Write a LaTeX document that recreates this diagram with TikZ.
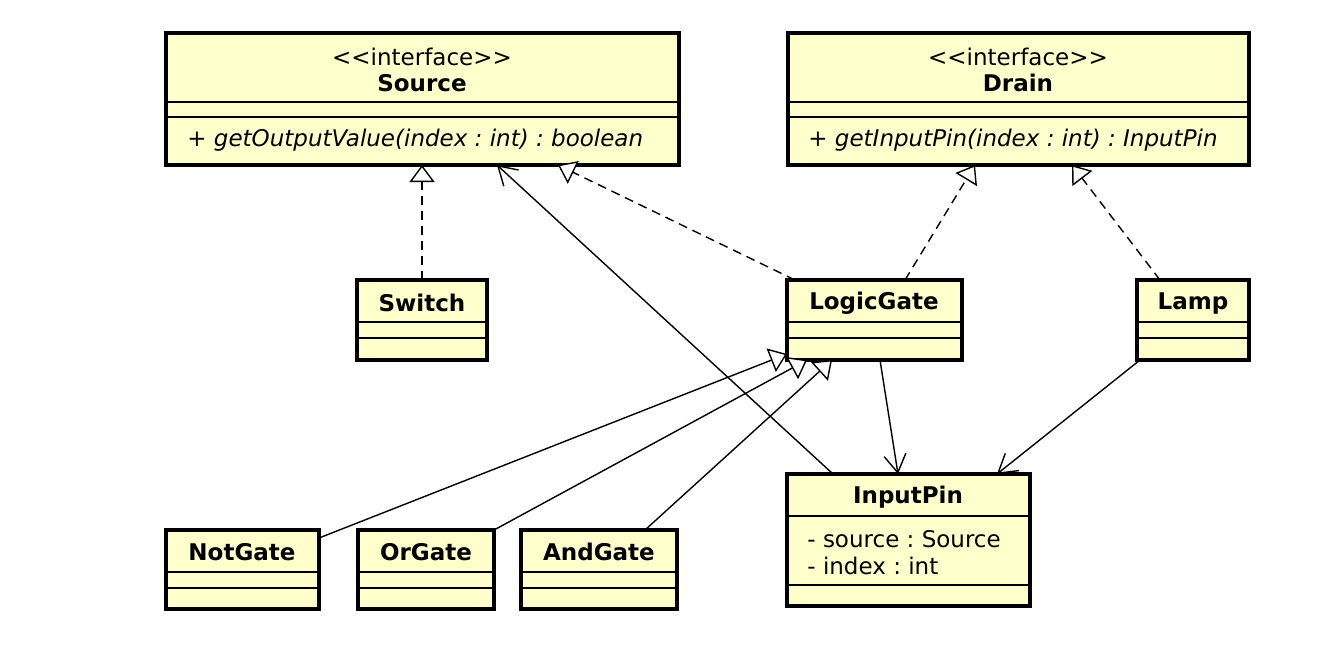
\documentclass[tikz,border=0pt]{standalone}
\usepackage{fontspec}
\newfontfamily\umlfont{DejaVu Sans}
\usepackage{tikz}
\usetikzlibrary{calc,arrows.meta}
\usepackage{xcolor}
\definecolor{umlfill}{HTML}{FFFFCC}
\frenchspacing

\begin{document}
\begin{tikzpicture}[x=0.5pt,y=-0.5pt,
    font=\umlfont\fontsize{11.5}{13}\selectfont,
    cls/.style={draw,line width=1.8pt,fill=umlfill,anchor=north west,inner sep=0pt,outer sep=0pt},
    px/.style 2 args={minimum width=#1*0.5pt,minimum height=#2*0.5pt},
    divider/.style={line width=0.7pt},
    txt/.style={inner sep=0pt},
    realize/.style={-{Triangle[length=8.5pt,width=12.5pt,fill=white]},line width=0.7pt,dash pattern=on 4.5pt off 3pt},
    inherit/.style={-{Triangle[length=8.5pt,width=12.5pt,fill=white]},line width=0.7pt},
    assoc/.style={-{Straight Barb[length=9pt,width=11pt]},line width=0.7pt}]

\path[use as bounding box,fill=white] (0,0) rectangle (1338,654);

% interfaces
\node[cls,px={513}{132}] (source) at (166,33) {};
\draw[divider] ($(source.north west)+(0,69)$) -- ($(source.north east)+(0,69)$);
\draw[divider] ($(source.north west)+(0,84)$) -- ($(source.north east)+(0,84)$);
\node[txt,align=center] (sourcehead) at (422,70) {<<interface>>\\\textbf{Source}};
\node[txt,anchor=west] (sourceop) at (187,140) {\textit{+ getOutputValue(index : int) : boolean}};

\node[cls,px={461}{132}] (drain) at (788,33) {};
\draw[divider] ($(drain.north west)+(0,69)$) -- ($(drain.north east)+(0,69)$);
\draw[divider] ($(drain.north west)+(0,84)$) -- ($(drain.north east)+(0,84)$);
\node[txt,align=center] (drainhead) at (1018,70) {<<interface>>\\\textbf{Drain}};
\node[txt,anchor=west] (drainop) at (808,140) {\textit{+ getInputPin(index : int) : InputPin}};

% middle row
\node[cls,px={130}{80}] (switch) at (357,280) {};
\draw[divider] ($(switch.north west)+(0,42)$) -- ($(switch.north east)+(0,42)$);
\draw[divider] ($(switch.north west)+(0,58)$) -- ($(switch.north east)+(0,58)$);
\node[txt] (switchname) at (422,303) {\textbf{Switch}};

\node[cls,px={175}{80}] (logicgate) at (787,280) {};
\draw[divider] ($(logicgate.north west)+(0,42)$) -- ($(logicgate.north east)+(0,42)$);
\draw[divider] ($(logicgate.north west)+(0,58)$) -- ($(logicgate.north east)+(0,58)$);
\node[txt] (logicgatename) at (874,303) {\textbf{LogicGate}};

\node[cls,px={112}{80}] (lamp) at (1137,280) {};
\draw[divider] ($(lamp.north west)+(0,42)$) -- ($(lamp.north east)+(0,42)$);
\draw[divider] ($(lamp.north west)+(0,58)$) -- ($(lamp.north east)+(0,58)$);
\node[txt] (lampname) at (1193,303) {\textbf{Lamp}};

% bottom row
\node[cls,px={243}{132}] (inputpin) at (787,474) {};
\draw[divider] ($(inputpin.north west)+(0,42)$) -- ($(inputpin.north east)+(0,42)$);
\draw[divider] ($(inputpin.north west)+(0,111)$) -- ($(inputpin.north east)+(0,111)$);
\node[txt] (inputpinname) at (908,497) {\textbf{InputPin}};
\node[txt,anchor=west] (inputpinsrc) at (807,539) {- source : Source};
\node[txt,anchor=west] (inputpinidx) at (807,566) {- index : int};

\node[cls,px={153}{79}] (notgate) at (166,530) {};
\draw[divider] ($(notgate.north west)+(0,42)$) -- ($(notgate.north east)+(0,42)$);
\draw[divider] ($(notgate.north west)+(0,58)$) -- ($(notgate.north east)+(0,58)$);
\node[txt] (notgatename) at (242,552) {\textbf{NotGate}};

\node[cls,px={136}{79}] (orgate) at (358,530) {};
\draw[divider] ($(orgate.north west)+(0,42)$) -- ($(orgate.north east)+(0,42)$);
\draw[divider] ($(orgate.north west)+(0,58)$) -- ($(orgate.north east)+(0,58)$);
\node[txt] (orgatename) at (426,552) {\textbf{OrGate}};

\node[cls,px={156}{79}] (andgate) at (521,530) {};
\draw[divider] ($(andgate.north west)+(0,42)$) -- ($(andgate.north east)+(0,42)$);
\draw[divider] ($(andgate.north west)+(0,58)$) -- ($(andgate.north east)+(0,58)$);
\node[txt] (andgatename) at (599,552) {\textbf{AndGate}};

% realizations
\draw[realize] (switch.north) -- (switch.north |- source.south);
\draw[realize] ($(logicgate.north west)+(8,0)$) -- ($(source.south west)+(392,0)$);
\draw[realize] ($(logicgate.north west)+(118,0)$) -- ($(drain.south west)+(187,0)$);
\draw[realize] ($(lamp.north west)+(23,0)$) -- ($(drain.south west)+(284,0)$);

% associations
\draw[assoc] ($(inputpin.north west)+(46,0)$) -- ($(source.south west)+(331,0)$);
\draw[assoc] ($(logicgate.south west)+(93,0)$) -- ($(inputpin.north west)+(111,0)$);
\draw[assoc] ($(lamp.south west)+(3,0)$) -- ($(inputpin.north west)+(210,0)$);

% generalizations
\draw[inherit] ($(notgate.north east)+(0,8)$) -- ($(logicgate.south west)+(0,-6)$);
\draw[inherit] (orgate.north east) -- ($(logicgate.south west)+(20,0)$);
\draw[inherit] ($(andgate.north west)+(124,0)$) -- ($(logicgate.south west)+(45,0)$);

\end{tikzpicture}
\end{document}
